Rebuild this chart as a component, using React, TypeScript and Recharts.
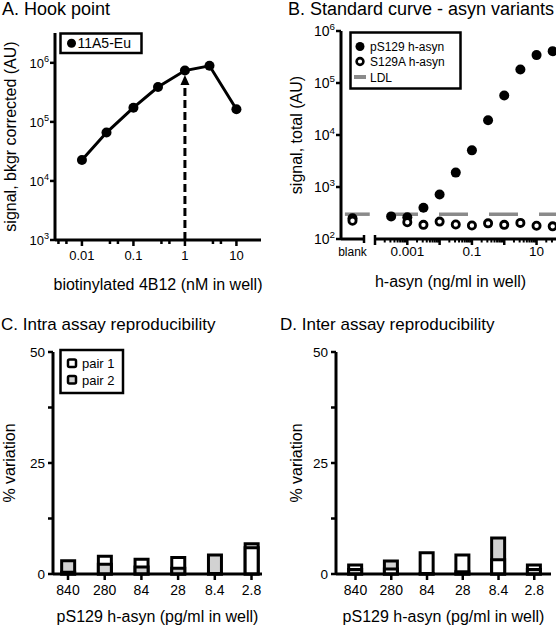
import React from "react";
import {
  LineChart,
  Line,
  ScatterChart,
  Scatter,
  BarChart,
  Bar,
  Cell,
  XAxis,
  YAxis,
  Label,
  ReferenceLine,
  ReferenceDot,
} from "recharts";

const W = 557;
const H = 632;
const FONT = "'Liberation Sans', Arial, Helvetica, sans-serif";
const INK = "#000";
const PAIR1 = "#ffffff";
const PAIR2 = "#d2d2d2";
const LDL_GREY = "#8a8a8a";

// A. hook point
const hookConc = [0.01, 0.03, 0.1, 0.3, 1, 3, 10];
const hookSignal = [22700, 66000, 174000, 390000, 740000, 890000, 164000];
const hookChosen = 1;
const hookArrowTip = 6.2e5;
const hookXTicks = [0.01, 0.1, 1, 10];
const hookXMinor = [0.0035, 0.005, 0.035, 0.05, 0.35, 0.5, 3.5, 5];
const hookYTicks = [1e3, 1e4, 1e5, 1e6];

// B. standard curve
const curveConc = [0.000316, 0.001, 0.00316, 0.01, 0.0316, 0.1, 0.316, 1, 3.16, 10, 31.6];
const pS129Signal = [272, 263, 400, 720, 1890, 5070, 19200, 57600, 182000, 344000, 410000];
const s129aConc = [0.001, 0.00316, 0.01, 0.0316, 0.1, 0.316, 1, 3.16, 10, 31.6];
const s129aSignal = [210, 187, 216, 190, 182, 200, 187, 204, 180, 175];
const blankPS129 = 250;
const blankS129A = 225;
const ldl = 300;
const curveDecades = [1e-4, 1e-3, 1e-2, 1e-1, 1, 10];
const curveMinorSteps = [2, 3, 4, 5, 6, 7, 8, 9];
const curveXLabels: Record<string, string> = { "0.001": "0.001", "0.1": "0.1", "10": "10" };
const curveYTicks = [1e2, 1e3, 1e4, 1e5, 1e6];

// C / D. reproducibility
const doses = ["840", "280", "84", "28", "8.4", "2.8"];
const intraPair1 = [0.4, 4.0, 3.3, 3.7, 0.1, 5.9];
const intraPair2 = [3.0, 2.2, 1.6, 1.3, 4.3, 6.8];
const interPair1 = [2.0, 1.1, 4.8, 4.3, 3.2, 2.0];
const interPair2 = [1.0, 2.9, 0.1, 0.5, 8.1, 1.0];
const cvTicks = [0, 12.5, 25, 37.5, 50];
const cvLabelled = [0, 25, 50];

const hookData = hookConc.map((x, i) => ({ x, y: hookSignal[i] }));
const pS129Data = curveConc.map((x, i) => ({ x, y: pS129Signal[i] }));
const s129aData = s129aConc.map((x, i) => ({ x, y: s129aSignal[i] }));
const curveMinor = curveDecades
  .flatMap((d) => curveMinorSteps.map((m) => d * m))
  .filter((v) => v < 40);

function overlapRows(p1: number[], p2: number[]) {
  return doses.map((dose, i) => {
    const firstBehind = p1[i] >= p2[i];
    return {
      dose,
      pos: i,
      back: Math.max(p1[i], p2[i]),
      front: Math.min(p1[i], p2[i]),
      backFill: firstBehind ? PAIR1 : PAIR2,
      frontFill: firstBehind ? PAIR2 : PAIR1,
    };
  });
}
const intraRows = overlapRows(intraPair1, intraPair2);
const interRows = overlapRows(interPair1, interPair2);

const axisLine = { stroke: INK, strokeWidth: 3 };
const titleStyle = { fontSize: 16, fill: INK };

function PowerTick({ x, y, payload, size }: any) {
  const exp = Math.round(Math.log10(payload.value));
  return (
    <g>
      <line x1={x - 5} x2={x} y1={y} y2={y} stroke={INK} strokeWidth={2.5} />
      <text x={x - 6} y={y + size * 0.36} textAnchor="end" fontSize={size} fill={INK}>
        10
        <tspan dy={-size * 0.42} fontSize={size * 0.7}>
          {exp}
        </tspan>
      </text>
    </g>
  );
}

function HookXTick({ x, y, payload }: any) {
  const major = hookXTicks.includes(payload.value);
  return (
    <g>
      <line x1={x} x2={x} y1={y} y2={y + (major ? 6 : 4)} stroke={INK} strokeWidth={2.5} />
      {major && (
        <text x={x} y={y + 20} textAnchor="middle" fontSize={13} fill={INK}>
          {String(payload.value)}
        </text>
      )}
    </g>
  );
}

function CurveXTick({ x, y, payload }: any) {
  const v = payload.value;
  const major = curveDecades.includes(v);
  const label = curveXLabels[String(v)];
  return (
    <g>
      <line
        x1={x}
        x2={x}
        y1={major && v === curveDecades[0] ? y - 4 : y}
        y2={y + (major ? 6 : 3.5)}
        stroke={INK}
        strokeWidth={major ? 2.5 : 2}
      />
      {label && (
        <text x={x} y={y + 17} textAnchor="middle" fontSize={13.5} fill={INK}>
          {label}
        </text>
      )}
    </g>
  );
}

function BlankTick({ x, y, payload }: any) {
  if (payload.value === 1) {
    return <line x1={x} x2={x} y1={y - 4} y2={y + 4} stroke={INK} strokeWidth={2.5} />;
  }
  return (
    <text x={x} y={y + 17} textAnchor="middle" fontSize={12} fill={INK}>
      blank
    </text>
  );
}

function CvYTick({ x, y, payload }: any) {
  const v = payload.value;
  return (
    <g>
      <line x1={x - 5} x2={x} y1={y} y2={y} stroke={INK} strokeWidth={2.5} />
      {cvLabelled.includes(v) && (
        <text x={x - 8} y={y + 5} textAnchor="end" fontSize={13.5} fill={INK}>
          {v}
        </text>
      )}
    </g>
  );
}

function DoseTick({ x, y, payload }: any) {
  return (
    <g>
      <line x1={x} x2={x} y1={y} y2={y + 6} stroke={INK} strokeWidth={2.5} />
      <text x={x} y={y + 21} textAnchor="middle" fontSize={14} fill={INK}>
        {doses[payload.value]}
      </text>
    </g>
  );
}

const filledDot = (p: any) => <circle cx={p.cx} cy={p.cy} r={5} fill={INK} />;
const openDot = (p: any) => (
  <circle cx={p.cx} cy={p.cy} r={3.6} fill="#fff" stroke={INK} strokeWidth={2.8} />
);

const layer: React.CSSProperties = { position: "absolute", left: 0, top: 0 };

function CvPanel({ rows, left, right, domain, yLabelOffset, axisWidth }: any) {
  return (
    <div style={layer}>
      <BarChart
        width={W}
        height={H}
        data={rows}
        margin={{ top: 352, right: W - right, bottom: 0, left }}
      >
        <XAxis
          xAxisId="back"
          type="number"
          dataKey="pos"
          domain={domain}
          ticks={[0, 1, 2, 3, 4, 5]}
          interval={0}
          allowDataOverflow
          height={58}
          axisLine={axisLine}
          tickLine={false}
          tickSize={0}
          tickMargin={0}
          tick={DoseTick}
        >
          <Label value="pS129 h-asyn (pg/ml in well)" position="insideBottom" offset={10} style={titleStyle} />
        </XAxis>
        <XAxis xAxisId="front" type="number" dataKey="pos" domain={domain} allowDataOverflow hide />
        <YAxis
          type="number"
          domain={[0, 50]}
          ticks={cvTicks}
          interval={0}
          width={axisWidth}
          axisLine={axisLine}
          tickLine={false}
          tickSize={0}
          tickMargin={0}
          tick={CvYTick}
        >
          <Label
            value="% variation"
            angle={-90}
            position="insideLeft"
            offset={yLabelOffset}
            style={{ ...titleStyle, textAnchor: "middle" }}
          />
        </YAxis>
        <Bar xAxisId="back" dataKey="back" barSize={13} stroke={INK} strokeWidth={3} isAnimationActive={false}>
          {rows.map((r: any) => (
            <Cell key={r.dose} fill={r.backFill} />
          ))}
        </Bar>
        <Bar xAxisId="front" dataKey="front" barSize={13} stroke={INK} strokeWidth={3} isAnimationActive={false}>
          {rows.map((r: any) => (
            <Cell key={r.dose} fill={r.frontFill} />
          ))}
        </Bar>
      </BarChart>
    </div>
  );
}

export default function App() {
  return (
    <div
      style={{
        position: "absolute",
        left: 0,
        top: 0,
        width: W,
        height: H,
        background: "#fff",
        fontFamily: FONT,
        overflow: "hidden",
      }}
    >
      {/* A. hook point */}
      <div style={layer}>
        <LineChart
          width={W}
          height={H}
          data={hookData}
          margin={{ top: 33, right: W - 261, bottom: H - 290, left: 0 }}
        >
          <XAxis
            type="number"
            dataKey="x"
            scale="log"
            domain={[0.003, 30]}
            allowDataOverflow
            ticks={[...hookXTicks, ...hookXMinor]}
            interval={0}
            height={50}
            axisLine={axisLine}
            tickLine={false}
            tickSize={0}
            tickMargin={0}
            tick={HookXTick}
          >
            <Label value="biotinylated 4B12 (nM in well)" position="insideBottom" offset={0} style={titleStyle} />
          </XAxis>
          <YAxis
            type="number"
            scale="log"
            domain={[1e3, 3.2e6]}
            allowDataOverflow
            ticks={hookYTicks}
            interval={0}
            width={55}
            axisLine={axisLine}
            tickLine={false}
            tickSize={0}
            tickMargin={0}
            tick={(p: any) => <PowerTick {...p} size={13} />}
          >
            <Label
              value="signal, bkgr corrected (AU)"
              angle={-90}
              position="insideLeft"
              offset={10}
              style={{ ...titleStyle, textAnchor: "middle" }}
            />
          </YAxis>
          <ReferenceLine
            segment={[
              { x: hookChosen, y: 1e3 },
              { x: hookChosen, y: hookArrowTip * 0.8 },
            ]}
            stroke={INK}
            strokeWidth={3}
            strokeDasharray="8 4"
          />
          <ReferenceDot
            x={hookChosen}
            y={hookArrowTip}
            shape={(p: any) => (
              <polygon
                points={`${p.cx},${p.cy} ${p.cx - 4.5},${p.cy + 10} ${p.cx + 4.5},${p.cy + 10}`}
                fill={INK}
              />
            )}
          />
          <Line
            dataKey="y"
            stroke={INK}
            strokeWidth={3}
            dot={{ r: 5, fill: INK, stroke: INK, strokeWidth: 0 }}
            isAnimationActive={false}
          />
        </LineChart>
      </div>

      {/* B. blank segment */}
      <div style={layer}>
        <ScatterChart width={W} height={H} margin={{ top: 31, right: W - 364, bottom: H - 290, left: 280 }}>
          <XAxis
            type="number"
            dataKey="x"
            domain={[0, 1]}
            ticks={[0.5, 1]}
            interval={0}
            height={51}
            axisLine={axisLine}
            tickLine={false}
            tickSize={0}
            tickMargin={0}
            tick={BlankTick}
          />
          <YAxis
            type="number"
            dataKey="y"
            scale="log"
            domain={[1e2, 1e6]}
            allowDataOverflow
            ticks={curveYTicks}
            interval={0}
            width={61}
            axisLine={axisLine}
            tickLine={false}
            tickSize={0}
            tickMargin={0}
            tick={(p: any) => <PowerTick {...p} size={14} />}
          >
            <Label
              value="signal, total (AU)"
              angle={-90}
              position="insideLeft"
              offset={16}
              style={{ ...titleStyle, textAnchor: "middle" }}
            />
          </YAxis>
          <ReferenceLine
            segment={[
              { x: 0.17, y: ldl },
              { x: 1.25, y: ldl },
            ]}
            ifOverflow="visible"
            stroke={LDL_GREY}
            strokeWidth={3.5}
          />
          <Scatter data={[{ x: 0.5, y: blankPS129 }]} shape={filledDot} isAnimationActive={false} />
          <Scatter data={[{ x: 0.5, y: blankS129A }]} shape={openDot} isAnimationActive={false} />
        </ScatterChart>
      </div>

      {/* B. concentration segment */}
      <div style={layer}>
        <ScatterChart width={W} height={H} margin={{ top: 31, right: 1, bottom: H - 290, left: 375 }}>
          <XAxis
            type="number"
            dataKey="x"
            scale="log"
            domain={[1e-4, 40]}
            allowDataOverflow
            ticks={[...curveDecades, ...curveMinor]}
            interval={0}
            height={51}
            axisLine={axisLine}
            tickLine={false}
            tickSize={0}
            tickMargin={0}
            tick={CurveXTick}
          >
            <Label
              value="h-asyn (ng/ml in well)"
              position="insideBottom"
              offset={3}
              dx={-15}
              style={titleStyle}
            />
          </XAxis>
          <YAxis type="number" dataKey="y" scale="log" domain={[1e2, 1e6]} allowDataOverflow hide />
          <ReferenceLine
            y={ldl}
            stroke={LDL_GREY}
            strokeWidth={3.5}
            strokeDasharray="29 21"
            strokeDashoffset={36}
          />
          <Scatter data={pS129Data} shape={filledDot} isAnimationActive={false} />
          <Scatter data={s129aData} shape={openDot} isAnimationActive={false} />
        </ScatterChart>
      </div>

      {/* C. intra assay */}
      <CvPanel rows={intraRows} left={0} right={262} domain={[-0.409, 5.286]} yLabelOffset={9} axisWidth={53} />
      {/* D. inter assay */}
      <CvPanel rows={interRows} left={286} right={551} domain={[-0.546, 5.468]} yLabelOffset={10} axisWidth={50} />

      {/* titles and legends */}
      <svg width={W} height={H} style={{ ...layer, pointerEvents: "none" }}>
        <g fill={INK}>
          <text x={2} y={15} fontSize={18}>A. Hook point</text>
          <text x={288} y={15} fontSize={18}>B. Standard curve - asyn variants</text>
          <text x={1} y={330} fontSize={17}>C. Intra assay reproducibility</text>
          <text x={280} y={330} fontSize={17}>D. Inter assay reproducibility</text>
        </g>

        <rect x={60.5} y={33.5} width={81} height={19.5} fill="#fff" stroke={INK} strokeWidth={2.5} />
        <circle cx={71.5} cy={43.2} r={4.5} fill={INK} />
        <text x={77.5} y={48} fontSize={14} fill={INK}>11A5-Eu</text>

        <rect x={350.5} y={32.5} width={110} height={56} fill="#fff" stroke={INK} strokeWidth={2.5} />
        <circle cx={360} cy={46.5} r={4.5} fill={INK} />
        <text x={370} y={51} fontSize={12} fill={INK}>pS129 h-asyn</text>
        <circle cx={360} cy={61.5} r={3.4} fill="#fff" stroke={INK} strokeWidth={2.6} />
        <text x={370} y={66} fontSize={12} fill={INK}>S129A h-asyn</text>
        <line x1={354} x2={366} y1={77} y2={77} stroke={LDL_GREY} strokeWidth={4} />
        <text x={370} y={81.5} fontSize={12} fill={INK}>LDL</text>

        <rect x={60.5} y={350} width={62.5} height={43} fill="#fff" stroke={INK} strokeWidth={2.5} />
        <rect x={68} y={359.5} width={8} height={7.5} rx={1.5} fill={PAIR1} stroke={INK} strokeWidth={2.5} />
        <text x={82} y={368} fontSize={13} fill={INK}>pair 1</text>
        <rect x={68} y={376} width={8} height={7.5} rx={1.5} fill={PAIR2} stroke={INK} strokeWidth={2.5} />
        <text x={82} y={384.5} fontSize={13} fill={INK}>pair 2</text>
      </svg>
    </div>
  );
}
